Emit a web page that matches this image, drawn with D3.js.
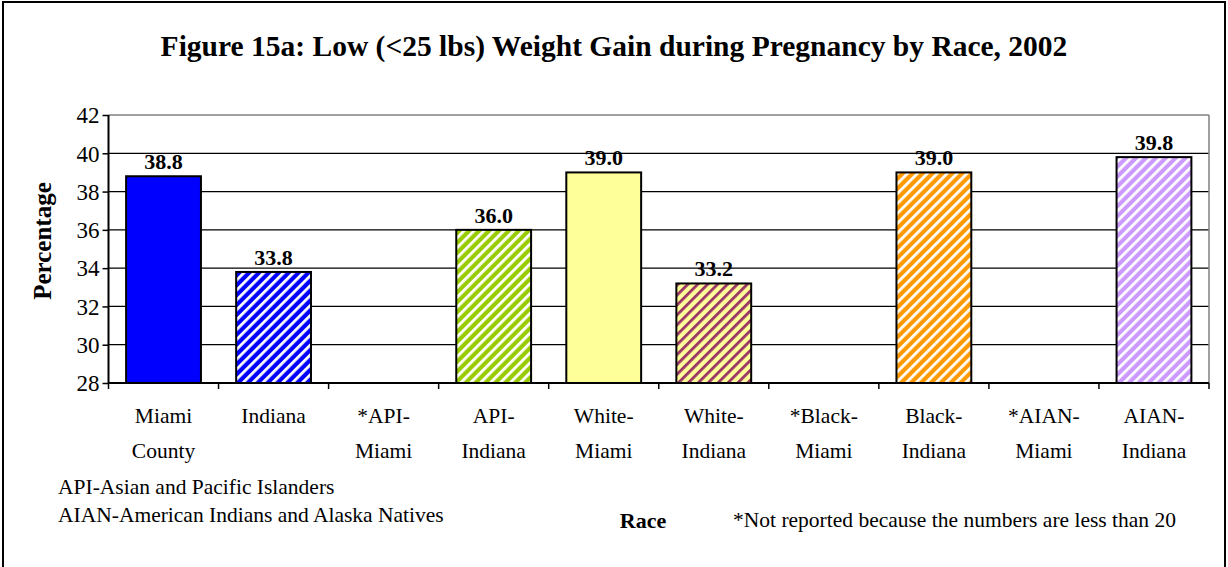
<!DOCTYPE html>
<html><head><meta charset="utf-8">
<script src="https://cdn.jsdelivr.net/npm/d3@7"></script>
<style>body{margin:0;background:#fff}svg{display:block}</style>
</head><body><svg id="c" width="1228" height="567"></svg>
<script>
const categories = [["Miami","County"],["Indiana"],["*API-","Miami"],["API-","Indiana"],["White-","Miami"],["White-","Indiana"],["*Black-","Miami"],["Black-","Indiana"],["*AIAN-","Miami"],["AIAN-","Indiana"]];
const values = [38.8, 33.8, null, 36.0, 39.0, 33.2, null, 39.0, null, 39.8];
const yTicks = [28,30,32,34,36,38,40,42];
const fills = [
  {base:"#0000FF", stripe:null},
  {base:"#0000FF", stripe:"#FFFFFF"},
  null,
  {base:"#99CC00", stripe:"#FFFFFF"},
  {base:"#FFFF99", stripe:null},
  {base:"#FFFF99", stripe:"#993366"},
  null,
  {base:"#FF9900", stripe:"#FFFFFF"},
  null,
  {base:"#CC99FF", stripe:"#FFFFFF"}
];
const FONT = "'Liberation Serif', 'DejaVu Serif', serif";

const svg = d3.select("#c").style("font-family", FONT);
const defs = svg.append("defs");
fills.forEach((f,i)=>{
  if(!f||!f.stripe) return;
  const p = defs.append("pattern").attr("id","p"+i).attr("patternUnits","userSpaceOnUse")
    .attr("width",7).attr("height",7).attr("patternTransform","rotate(45)");
  p.append("rect").attr("width",7).attr("height",7).attr("fill",f.base);
  p.append("rect").attr("width",2.8).attr("height",7).attr("fill",f.stripe);
});

// outer frame
svg.append("rect").attr("x",3).attr("y",2).attr("width",1222).attr("height",580)
  .attr("fill","none").attr("stroke","#000").attr("stroke-width",2);

const m = {left:108.5, right:1209, top:115, bottom:383};
const x = d3.scaleBand().domain(d3.range(categories.length)).range([m.left,m.right]).paddingInner(0.32).paddingOuter(0.16);
const y = d3.scaleLinear().domain([28,42]).range([m.bottom,m.top]);

// gridlines
svg.append("g").selectAll("line").data(yTicks.filter(t=>t>28)).join("line")
  .attr("x1",m.left).attr("x2",m.right).attr("y1",d=>y(d)).attr("y2",d=>y(d))
  .attr("stroke",d=>d===42?"#808080":"#000").attr("stroke-width",d=>d===42?1.5:1.2);
svg.append("line").attr("x1",m.right).attr("x2",m.right).attr("y1",m.top).attr("y2",m.bottom).attr("stroke","#808080").attr("stroke-width",1.5);

// bars
const idx = d3.range(values.length).filter(i=>values[i]!=null);
svg.append("g").selectAll("rect").data(idx).join("rect")
  .attr("x",i=>x(i)).attr("width",x.bandwidth())
  .attr("y",i=>y(values[i])).attr("height",i=>y(28)-y(values[i]))
  .attr("fill",i=>fills[i].stripe?`url(#p${i})`:fills[i].base)
  .attr("stroke","#000").attr("stroke-width",2);

function txt(sel){ return sel.attr("font-family",FONT).style("font-family",FONT).attr("fill","#000"); }

// value labels
txt(svg.append("g").selectAll("text").data(idx).join("text"))
  .attr("x",i=>x(i)+x.bandwidth()/2).attr("y",i=>y(values[i])-7)
  .attr("text-anchor","middle").style("font-size","22px").style("font-weight","bold")
  .text(i=>values[i].toFixed(1));

// y axis
const ya = svg.append("g").attr("transform",`translate(${m.left},0)`)
  .call(d3.axisLeft(y).tickValues(yTicks).tickSize(6).tickPadding(3).tickFormat(d3.format("d")));
ya.attr("font-family",FONT);
ya.select(".domain").attr("stroke","#000").attr("stroke-width",2).attr("d",`M0,${m.top}V${m.bottom}`);
ya.selectAll(".tick line").attr("stroke","#000").attr("stroke-width",1.5);
txt(ya.selectAll(".tick text")).style("font-size","23px").attr("dy","0.34em");

// x axis
const xa = svg.append("g").attr("transform",`translate(0,${m.bottom})`);
xa.append("line").attr("x1",m.left).attr("x2",m.right).attr("stroke","#000").attr("stroke-width",2);
const bounds = d3.range(categories.length+1).map(i=>m.left+i*x.step());
xa.selectAll("line.t").data(bounds).join("line").attr("class","t")
  .attr("x1",d=>d).attr("x2",d=>d).attr("y1",0).attr("y2",6).attr("stroke","#000").attr("stroke-width",1.5);
const cl = txt(xa.selectAll("text.c").data(categories).join("text").attr("class","c"))
  .attr("text-anchor","middle").style("font-size","21.5px");
cl.each(function(d,i){
  d3.select(this).selectAll("tspan").data(d).join("tspan")
    .attr("x",x(i)+x.bandwidth()/2).attr("y",(d2,j)=>40+j*35).text(d2=>d2);
});

// titles
txt(svg.append("text")).attr("x",614).attr("y",56).attr("text-anchor","middle")
  .style("font-size","29.5px").style("font-weight","bold")
  .text("Figure 15a: Low (<25 lbs) Weight Gain during Pregnancy by Race, 2002");
txt(svg.append("text")).attr("transform","translate(51,241) rotate(-90)").attr("text-anchor","middle")
  .style("font-size","25px").style("font-weight","bold").text("Percentage");
txt(svg.append("text")).attr("x",643).attr("y",528).attr("text-anchor","middle")
  .style("font-size","22px").style("font-weight","bold").text("Race");

// notes
txt(svg.append("text")).attr("x",58).attr("y",494).style("font-size","21.5px").text("API-Asian and Pacific Islanders");
txt(svg.append("text")).attr("x",58).attr("y",522).style("font-size","21.5px").text("AIAN-American Indians and Alaska Natives");
txt(svg.append("text")).attr("x",733).attr("y",527).style("font-size","21.5px").text("*Not reported because the numbers are less than 20");
</script></body></html>
